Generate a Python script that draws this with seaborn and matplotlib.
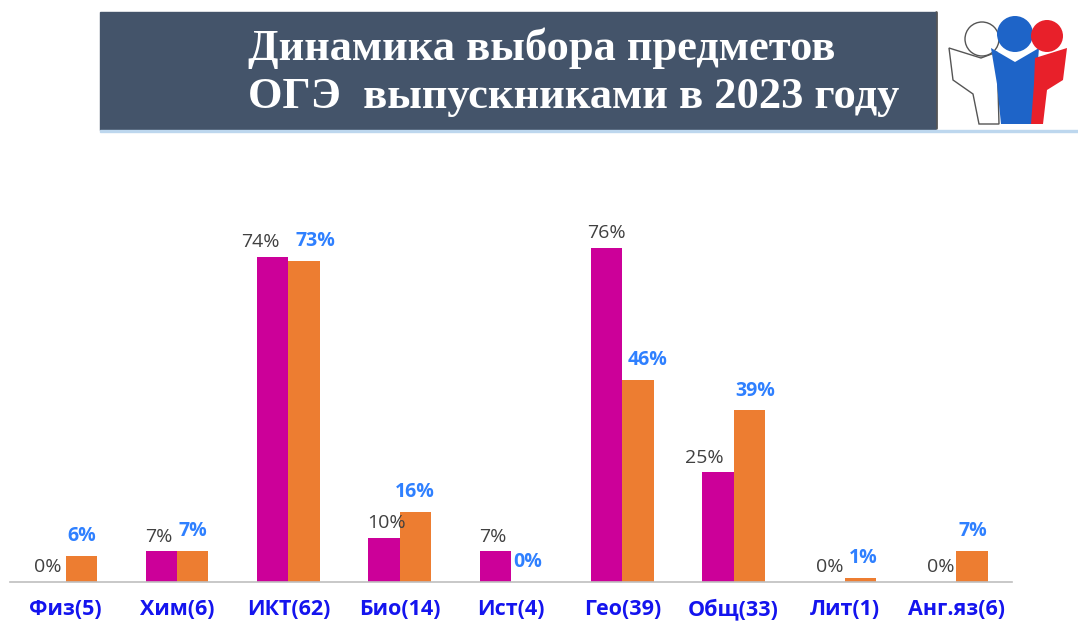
import pandas as pd
import numpy as np
import matplotlib.pyplot as plt
import matplotlib.patches as mpatches
import seaborn as sns

subjects = ["Физ(5)", "Хим(6)", "ИКТ(62)", "Био(14)", "Ист(4)", "Гео(39)", "Общ(33)", "Лит(1)", "Анг.яз(6)"]
series = ["2022", "2023"]
pct_2022 = [0, 7, 74, 10, 7, 76, 25, 0, 0]
pct_2023 = [6, 7, 73, 16, 0, 46, 39, 1, 7]

df = pd.DataFrame({
    "subject": subjects * 2,
    "year": [series[0]] * len(subjects) + [series[1]] * len(subjects),
    "pct": pct_2022 + pct_2023,
})

magenta = "#CC0099"
orange = "#ED7D31"

sns.set_style("white")
plt.rcParams["font.family"] = ["Open Sans", "DejaVu Sans"]

fig = plt.figure(figsize=(10.78, 6.27), dpi=100)

# banner
fig.patches.append(mpatches.Rectangle((100 / 1078, 1 - 130 / 627), 835 / 1078, 118 / 627,
                                      transform=fig.transFigure, color="#44546A", zorder=0))
fig.patches.append(mpatches.Rectangle((100 / 1078, 1 - 132 / 627), 978 / 1078, 2 / 627,
                                      transform=fig.transFigure, color="#BDD7EE", zorder=0))
fig.text(248 / 1078, 1 - 48 / 627, "Динамика выбора предметов", color="white",
         family="Liberation Serif", weight="bold", fontsize=32, ha="left", va="center")
fig.text(248 / 1078, 1 - 97 / 627, "ОГЭ  выпускниками в 2023 году", color="white",
         family="Liberation Serif", weight="bold", fontsize=32, ha="left", va="center")

# logo (rough)
lg = fig.add_axes([935 / 1078, 1 - 128 / 627, 143 / 1078, 116 / 627])
lg.set_xlim(0, 143)
lg.set_ylim(116, 0)
lg.axis("off")
lg.add_patch(mpatches.Polygon([(14, 36), (46, 46), (62, 40), (64, 112), (44, 112), (38, 82), (18, 68)],
                              closed=True, fc="white", ec="#555555", lw=1))
lg.add_patch(mpatches.Circle((47, 27), 17, fc="white", ec="#555555", lw=1))
lg.add_patch(mpatches.Polygon([(56, 36), (80, 50), (104, 36), (101, 72), (99, 112), (66, 112), (62, 72)],
                              closed=True, fc="#1E64C8", ec="none"))
lg.add_patch(mpatches.Circle((80, 22), 18, fc="#1E64C8", ec="none"))
lg.add_patch(mpatches.Polygon([(100, 46), (132, 36), (128, 68), (112, 78), (108, 112), (96, 112), (99, 72)],
                              closed=True, fc="#E8202A", ec="none"))
lg.add_patch(mpatches.Circle((112, 24), 16, fc="#E8202A", ec="none"))
lg.plot([1, 1], [0, 116], color="#555555", lw=2, clip_on=False)

# chart
ax = fig.add_axes([10 / 1078, 45 / 627, 1002 / 1078, 387 / 627])
sns.barplot(data=df, x="subject", y="pct", hue="year", palette=[magenta, orange],
            width=0.56, saturation=1, legend=False, linewidth=0, ax=ax)
ax.set_ylim(0, 88)
ax.set_xlim(-0.5, 8.5)
ax.set_xlabel("")
ax.set_ylabel("")
ax.set_yticks([])
for s in ["top", "left", "right"]:
    ax.spines[s].set_visible(False)
ax.spines["bottom"].set_color("#BFBFBF")
ax.spines["bottom"].set_linewidth(1.2)
ax.tick_params(axis="x", length=0, pad=12)
for t in ax.get_xticklabels():
    t.set_color("#1414EE")
    t.set_fontweight("bold")
    t.set_fontsize(15.5)

# value labels with small nudges (points) like in the original
nudge_2022 = [-2, -2, -9, 2, -2, 0, -10, 0, 0]
nudge_2023 = [0, 0, 8, 0, 1, 7, 4, 2, 1]
for cont, vals, nudges, col, wt, pad in [
    (ax.containers[0], pct_2022, nudge_2022, "#404040", "normal", 4),
    (ax.containers[1], pct_2023, nudge_2023, "#2F80FF", "bold", 7),
]:
    for bar, v, dx in zip(cont.patches, vals, nudges):
        ax.annotate(f"{v}%", (bar.get_x() + bar.get_width() / 2, bar.get_height()),
                    xytext=(dx, pad), textcoords="offset points", ha="center", va="bottom",
                    color=col, fontweight=wt, fontsize=14)

plt.savefig("out.png", dpi=100)
